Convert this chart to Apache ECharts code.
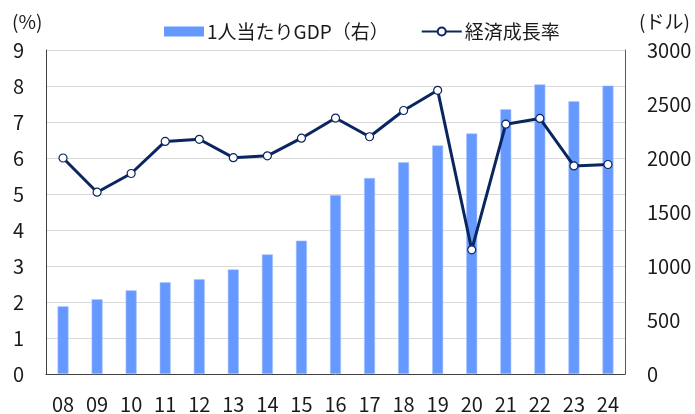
<!DOCTYPE html>
<html>
<head>
<meta charset="utf-8">
<script src="https://cdn.jsdelivr.net/npm/echarts@6/dist/echarts.min.js"></script>
<style>html,body{margin:0;padding:0;background:#fff}#c{width:695px;height:414px}</style>
</head>
<body>
<div id="c"></div>
<script>
const categories = ['08','09','10','11','12','13','14','15','16','17','18','19','20','21','22','23','24'];
const gdpPerCapita = [627, 692, 775, 849, 877, 969, 1108, 1235, 1657, 1815, 1960, 2117, 2228, 2451, 2682, 2525, 2670];
const growthRate = [6.0, 5.05, 5.57, 6.46, 6.52, 6.01, 6.06, 6.55, 7.11, 6.59, 7.32, 7.88, 3.45, 6.94, 7.10, 5.78, 5.82];
const seriesNames = ['1人当たりGDP（右）', '経済成長率'];
const leftUnit = '(%)';
const rightUnit = '(ドル)';

const FONT = '"Noto Sans CJK JP", "Noto Sans", sans-serif';
const TXT = '#1a1a1a';
const chart = echarts.init(document.getElementById('c'), null, {renderer: 'canvas'});
chart.setOption({
  animation: false,
  textStyle: {fontFamily: FONT, color: TXT},
  grid: {left: 46, right: 70, top: 50, bottom: 40},
  legend: {
    left: 159, top: 17,
    itemWidth: 40, itemHeight: 10, itemGap: 32,
    textStyle: {fontFamily: FONT, fontSize: 19, color: TXT, padding: [0,0,0,-2]},
    data: [
      {name: seriesNames[0], icon: 'rect', itemStyle: {borderWidth: 0}},
      {name: seriesNames[1]}
    ]
  },
  graphic: [
    {type: 'text', left: 12, top: 12, style: {text: leftUnit, font: '19px ' + FONT, fill: TXT}},
    {type: 'text', left: 639, top: 12, style: {text: rightUnit, font: '19px ' + FONT, fill: TXT}}
  ],
  xAxis: {
    type: 'category', data: categories, boundaryGap: true,
    axisLine: {lineStyle: {color: '#404040', width: 1}},
    axisTick: {show: false},
    axisLabel: {fontSize: 20, color: TXT, margin: 20, fontFamily: FONT}
  },
  yAxis: [
    {
      type: 'value', min: 0, max: 9, interval: 1, position: 'left',
      axisLine: {show: true, lineStyle: {color: '#404040', width: 1}},
      axisTick: {show: false},
      axisLabel: {fontSize: 20, color: TXT, margin: 22, fontFamily: FONT},
      splitLine: {show: true, lineStyle: {color: '#d9d9d9', width: 1}}
    },
    {
      type: 'value', min: 0, max: 3000, interval: 500, position: 'right',
      axisLine: {show: true, lineStyle: {color: '#595959', width: 1}},
      axisTick: {show: false},
      axisLabel: {fontSize: 20, color: TXT, margin: 22, fontFamily: FONT, formatter: v => String(v)},
      splitLine: {show: false}
    }
  ],
  series: [
    {
      name: seriesNames[0], type: 'bar', yAxisIndex: 1, data: gdpPerCapita,
      barWidth: 11,
      itemStyle: {color: '#6699ff', borderColor: '#a9c4ff', borderWidth: 0.6}
    },
    {
      name: seriesNames[1], type: 'line', yAxisIndex: 0, data: growthRate,
      symbol: 'circle', symbolSize: 8,
      lineStyle: {color: '#0a2660', width: 3},
      itemStyle: {color: '#ffffff', borderColor: '#0a2660', borderWidth: 1.2},
      z: 3
    }
  ]
});
</script>
</body>
</html>
